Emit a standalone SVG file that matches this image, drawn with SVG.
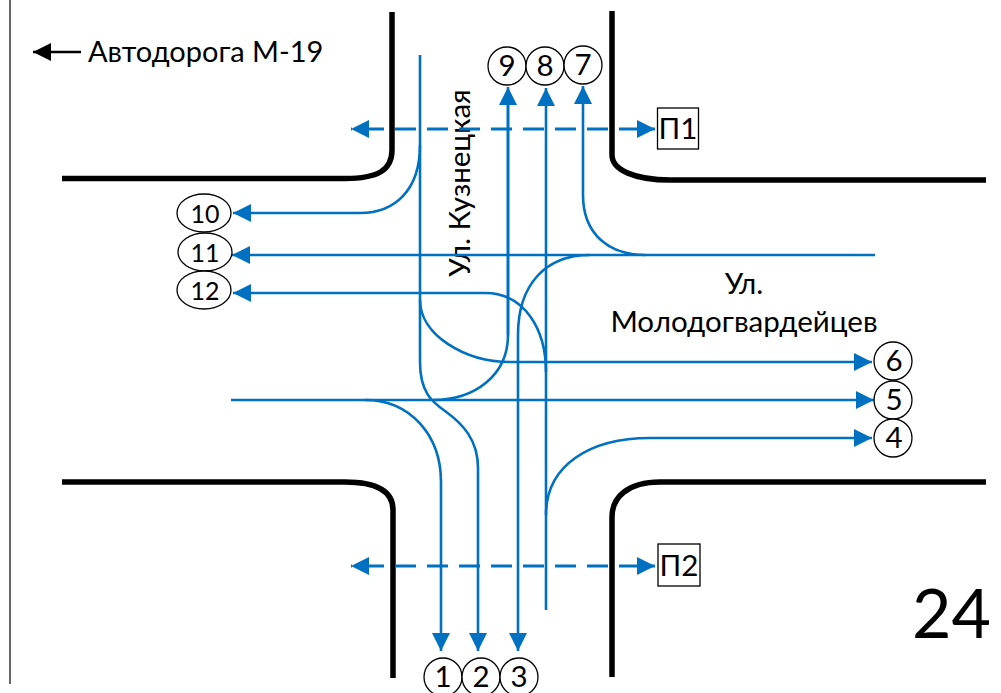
<svg xmlns="http://www.w3.org/2000/svg" width="1001" height="693" viewBox="0 0 1001 693">
<style>
.road{fill:none;stroke:#000;stroke-width:5.5}
.b{fill:none;stroke:#0070C0;stroke-width:2.600}
.a{marker-end:url(#ah)}
.d{stroke-width:3;stroke-dasharray:21 11;stroke-dashoffset:20;marker-start:url(#as);marker-end:url(#ah)}
.n{fill:#fff;stroke:#000;stroke-width:1.3}
text{font-family:Lato,"Open Sans","Liberation Sans",sans-serif;fill:#000;font-size:29.500px}
.c{text-anchor:middle}
</style>
<defs>
<marker id="ah" markerUnits="userSpaceOnUse" markerWidth="19" markerHeight="20" refX="18" refY="9" orient="auto"><path d="M0 0L18 9L0 18L0 0Z" fill="#0070C0"/></marker>
<marker id="as" markerUnits="userSpaceOnUse" markerWidth="19" markerHeight="20" refX="0" refY="9" orient="auto"><path d="M18 0L0 9L18 18Z" fill="#0070C0"/></marker>
<marker id="ak" markerUnits="userSpaceOnUse" markerWidth="19" markerHeight="20" refX="18" refY="9" orient="auto"><path d="M0 0L18 9L0 18Z" fill="#000"/></marker>
</defs>
<g id="roads">
<path class="road" d="M62 178.500H345C378 178.500 392 170 392 150V12"/>
<path class="road" d="M612 11V155C612 170 635 180 670 180H986"/>
<path class="road" d="M62 482H345C378 482 393 492 393 510V678"/>
<path class="road" d="M986 482H660C628 482 612 497 612 517V677"/>
</g>
<g id="frame">
<path d="M10 0V684" stroke="#333" stroke-width="1.500" fill="none"/>
<path d="M81 52H33" stroke="#000" stroke-width="2.500" fill="none" marker-end="url(#ak)"/>
</g>
<g id="labels">
<text x="88" y="62" style="font-size:29px">Автодорога М-19</text>
<text class="c" transform="translate(470 183) rotate(-90)">Ул. Кузнецкая</text>
<text class="c" x="744" y="294">Ул.</text>
<text class="c" x="744" y="332">Молодогвардейцев</text>
<text x="912" y="638" style="font-size:68px">24</text>
</g>
<g id="connectors">
<path class="b a" d="M420 55V362C420 392 432 402 445 411C463 424 478 440 478 468V651"/>
<path class="b a" d="M420 145C420 190 395 213 360 213H233"/>
<path class="b a" d="M420 300C420 335 465 362 510 362H872"/>
<path class="b a" d="M546 610V88"/>
<path class="b a" d="M546 372C546 330 525 293 485 293H233"/>
<path class="b" d="M508 100V335C508 375 475 400 433 400"/>
<path class="b a" d="M231 400H874"/>
<path class="b a" d="M875 255H232"/>
<path class="b a" d="M508 335V87"/>
<path class="b a" d="M645 255C610 255 583 235 583 195V86"/>
<path class="b a" d="M590 255C545 255 518 285 518 335V651"/>
<path class="b a" d="M365 400C410 400 441 435 441 482V651"/>
<path class="b a" d="M546 515C546 465 590 438 650 438H872"/>
<path class="b d" d="M351 129H655"/>
<path class="b d" d="M351 566H655"/>
</g>
<g id="n9"><circle class="n" cx="507" cy="66" r="19"/><text class="c" x="507" y="76">9</text></g>
<g id="n8"><circle class="n" cx="545" cy="66" r="19"/><text class="c" x="545" y="76">8</text></g>
<g id="n7"><circle class="n" cx="583" cy="65" r="19"/><text class="c" x="583" y="75">7</text></g>
<g id="p1"><rect class="n" x="657.500" y="108" width="41" height="41"/><text class="c" x="678" y="139">П1</text></g>
<g id="p2"><rect class="n" x="658" y="544" width="42" height="42"/><text class="c" x="679" y="576">П2</text></g>
<g id="n10"><ellipse class="n" cx="204" cy="213" rx="27" ry="19"/><text class="c" x="205" y="223" style="font-size:25px">10</text></g>
<g id="n11"><ellipse class="n" cx="205" cy="252" rx="27" ry="19"/><text class="c" x="205" y="262" style="font-size:25px">11</text></g>
<g id="n12"><ellipse class="n" cx="204" cy="290" rx="27" ry="19"/><text class="c" x="205" y="300" style="font-size:25px">12</text></g>
<g id="n6"><circle class="n" cx="893" cy="361" r="19"/><text class="c" x="894" y="371">6</text></g>
<g id="n5"><circle class="n" cx="893" cy="400" r="19"/><text class="c" x="894" y="410">5</text></g>
<g id="n4"><circle class="n" cx="893" cy="438" r="19"/><text class="c" x="894" y="448">4</text></g>
<g id="n1"><circle class="n" cx="443" cy="677" r="19"/><text class="c" x="443" y="687">1</text></g>
<g id="n2"><circle class="n" cx="481" cy="677" r="19"/><text class="c" x="481" y="687">2</text></g>
<g id="n3"><circle class="n" cx="519" cy="677" r="19"/><text class="c" x="519" y="687">3</text></g>
</svg>
